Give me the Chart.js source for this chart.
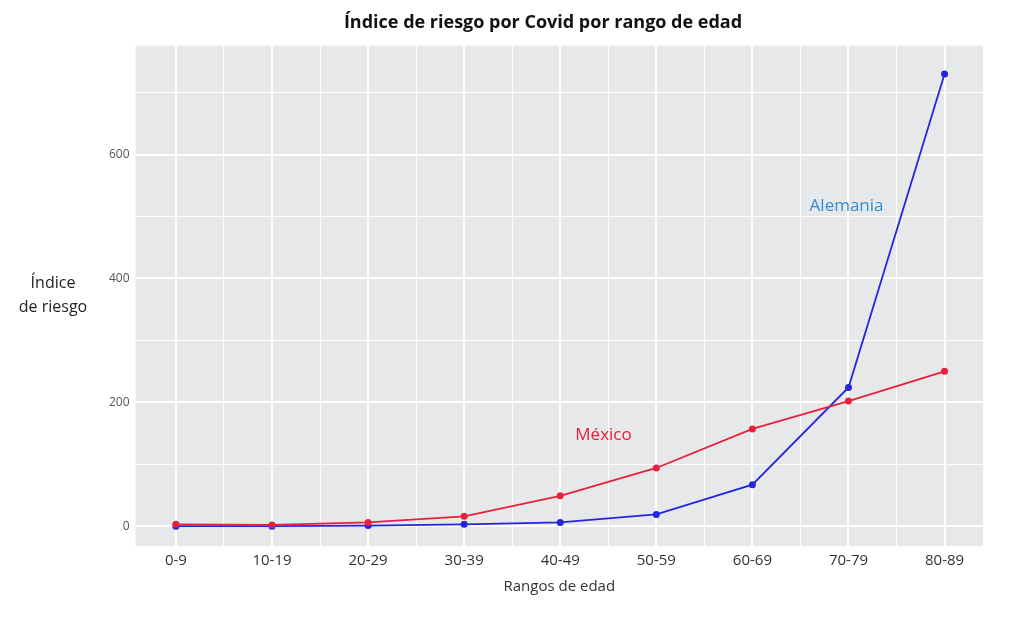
<!DOCTYPE html>
<html><head><meta charset="utf-8">
<script src="https://cdn.jsdelivr.net/npm/chart.js@4"></script>
<style>html,body{margin:0;background:#fff}#w{width:1025px;height:620px}</style>
</head><body><div id="w"><canvas id="c"></canvas></div>
<script>
const categories=["0-9","10-19","20-29","30-39","40-49","50-59","60-69","70-79","80-89"];
const mexico=[3,2,6,16,49,94,157,202,250];
const alemania=[0,0,1,3,6,19,67,224,730];
const yTicks=[0,200,400,600];
const F="'Open Sans', sans-serif";
const pts=a=>a.map((v,i)=>({x:i,y:v}));
const bg={id:'bg',beforeDraw(ch){const a=ch.chartArea,c=ch.ctx;c.save();c.fillStyle='#e6e8ea';c.fillRect(a.left,a.top,a.right-a.left,a.bottom-a.top);c.restore();},
afterDraw(ch){const c=ch.ctx,x=ch.scales.x,y=ch.scales.y;c.save();c.font="17px "+F;c.textAlign='center';c.textBaseline='middle';
c.fillStyle='#2f8fd6';c.fillText('Alemania',x.getPixelForValue(6.98),y.getPixelForValue(517));
c.fillStyle='#e8203a';c.fillText('México',x.getPixelForValue(4.45),y.getPixelForValue(147));
c.fillStyle='#222';c.font="16px "+F;c.fillText('Índice',53,283);c.fillText('de riesgo',53,307);c.restore();}};
new Chart(document.getElementById('c'),{type:'line',data:{datasets:[
{label:'México',data:pts(mexico),borderColor:'#e8203a',backgroundColor:'#e8203a',borderWidth:1.8,pointRadius:3.5,pointBorderWidth:0},
{label:'Alemania',data:pts(alemania),borderColor:'#2525e0',backgroundColor:'#2525e0',borderWidth:1.8,pointRadius:3.5,pointBorderWidth:0}]},
options:{responsive:true,maintainAspectRatio:false,animation:false,
layout:{padding:{left:103,right:42,top:8,bottom:20}},
plugins:{legend:{display:false},tooltip:{enabled:false},title:{display:true,text:'Índice de riesgo por Covid por rango de edad',color:'#111',font:{family:F,size:18,weight:'bold'},padding:{top:4,bottom:12}}},
scales:{
x:{type:'linear',min:-0.42,max:8.4,border:{display:false},
ticks:{stepSize:0.5,autoSkip:false,color:'#333',font:{family:F,size:15},padding:6,callback:v=>Number.isInteger(v)?categories[v]:''},
afterBuildTicks(s){const t=[];for(let v=-0.5;v<=8.5;v+=0.5)if(v>=-0.42&&v<=8.4)t.push({value:v});s.ticks=t;},
grid:{color:'#fff',lineWidth:c=>Number.isInteger(c.tick.value)?2:1,drawTicks:false},
title:{display:true,text:'Rangos de edad',color:'#333',font:{family:F,size:15},padding:{top:2}}},
y:{min:-32,max:776,border:{display:false},
afterBuildTicks(s){const t=[];for(let v=0;v<=700;v+=100)t.push({value:v});s.ticks=t;},
ticks:{color:'#555',font:{family:F,size:12},padding:6,callback:v=>yTicks.includes(v)?String(v):''},
grid:{color:'#fff',lineWidth:c=>c.tick.value%200===0?2:1,drawTicks:false}}}},
plugins:[bg]});
</script></body></html>
